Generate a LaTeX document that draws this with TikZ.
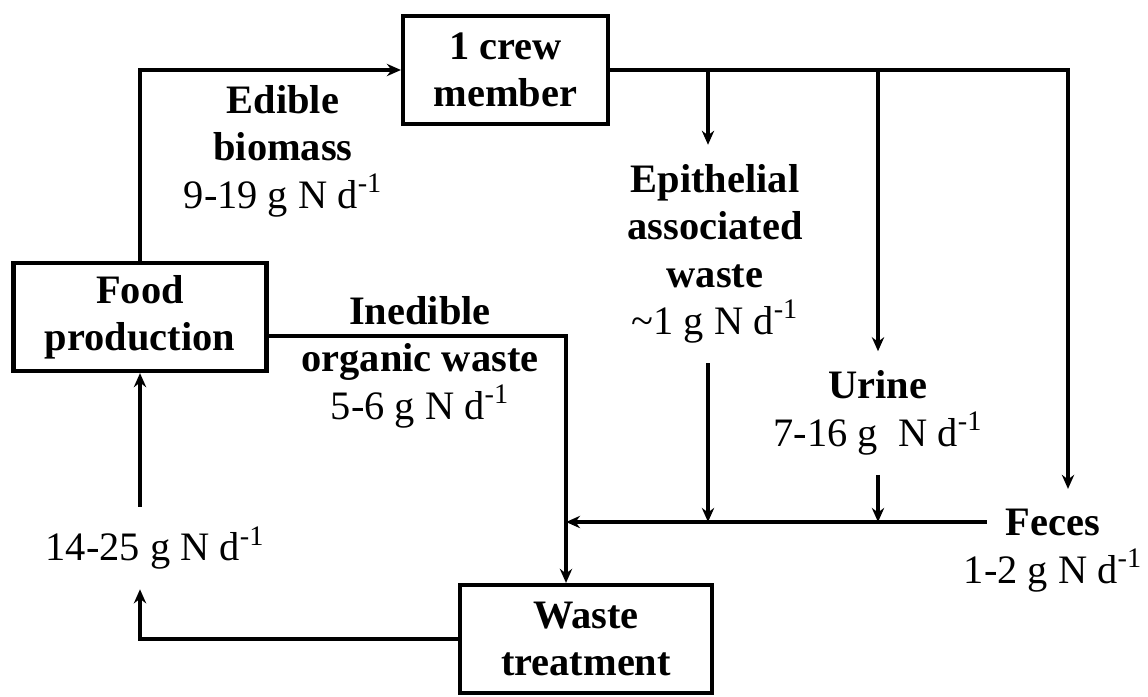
\documentclass[tikz,border=0pt]{standalone}
\usepackage{fontspec}
\setmainfont{Liberation Serif}
\usetikzlibrary{arrows.meta, positioning}
\newcommand{\diagfont}{\fontsize{23}{27}\selectfont}
\newcommand{\gnd}[1]{#1 g N d\textsuperscript{-1}}
\tikzset{>={Stealth[length=8pt,width=7pt]}}

\begin{document}
\begin{tikzpicture}[x=0.02cm, y=-0.02cm, line width=1.9pt,
    every node/.style={font=\diagfont, align=center},
    box/.style={draw, line width=2.4pt, inner ysep=2pt, minimum height=2.16cm, font=\diagfont\bfseries},
    flow/.style={inner ysep=0.36cm}]
  \useasboundingbox (0,0) rectangle (1148,696);

  % boxes
  \node[box, minimum width=4.1cm] (crew) at (505.5,70) {1 crew\\member};
  \node[box, minimum width=5.06cm] (food) at (140,317) {Food\\production};
  \node[box, minimum width=5.04cm] (waste) at (586,639) {Waste\\treatment};

  % flow labels
  \node[flow] (edible) at (283,151) {\textbf{Edible}\\\textbf{biomass}\\\gnd{9-19}};
  \node[flow] (epi) at (715,254) {\textbf{Epithelial}\\\textbf{associated}\\\textbf{waste}\\\textasciitilde\gnd{1}};
  \node[flow] (urine) at (878,413) {\textbf{Urine}\\7-16 g\ \ N d\textsuperscript{-1}};
  \node[flow] (inedible) at (420,362) {\textbf{Inedible}\\\textbf{organic waste}\\\gnd{5-6}};
  \node[flow, inner xsep=0.35cm] (feces) at (1053,522) {\textbf{Feces}};
  \node[below=-0.28cm of feces] (fecesval) {\gnd{1-2}};
  \node[flow] (recycled) at (155,548) {\gnd{14-25}};

  \coordinate (split1) at (708,70);
  \coordinate (split2) at (878,70);
  \coordinate (corner) at (1068,70);
  \coordinate (drop) at (566,336);

  % connectors
  \draw[->] (food.north) |- (crew.west);
  \draw[->] (crew.east) -| (corner |- feces.north);
  \draw[->] (split1) -- (split1 |- epi.north);
  \draw[->] (split1 |- epi.south) -- (split1 |- feces.west);
  \draw[->] (split2) -- (split2 |- urine.north);
  \draw[->] (split2 |- urine.south) -- (split2 |- feces.west);
  \draw[->] (feces.west) -- (feces.west -| drop);
  \draw[->] ([yshift=-0.38cm]food.east) -| (drop |- waste.north);
  \draw[->] (waste.west) -| (recycled.south -| food.south);
  \draw[->] (recycled.north -| food.north) -- (food.south);
\end{tikzpicture}
\end{document}
